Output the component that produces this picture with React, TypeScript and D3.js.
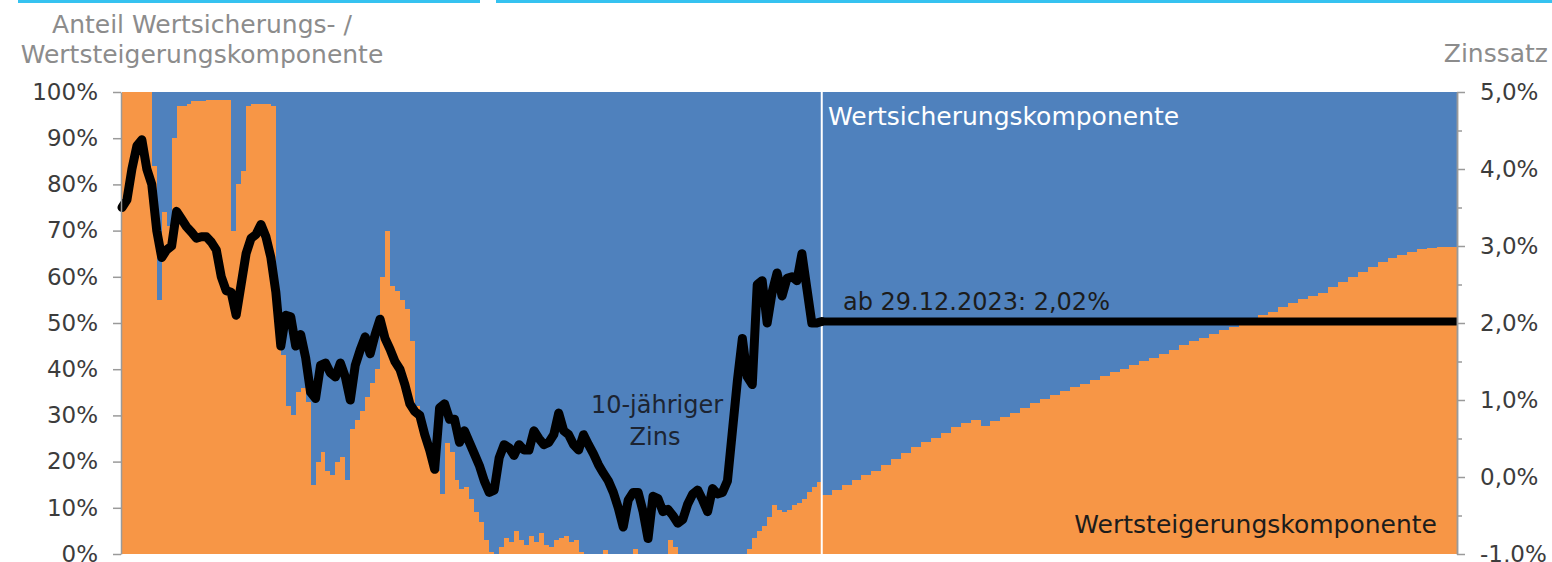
import React, { useEffect, useRef } from "react";
import * as d3 from "d3";

// Anteil Wertsteigerungskomponente (orange) in %, historischer Zeitraum
const shareHist = [
  100, 100, 100, 100, 100, 100, 84, 55, 74, 71,
  90, 97, 97, 97.5, 98, 98, 98, 98.2, 98.2, 98.2,
  98.2, 98.2, 70, 80, 83, 97, 97.4, 97.4, 97.4, 97.4,
  97, 55, 43, 32, 30, 35, 36, 33, 15, 20,
  22, 18, 17, 20, 21, 16, 27, 29, 31, 34,
  37, 40, 60, 70, 58, 57, 55, 53, 46, 32,
  27, 24, 21, 18, 13, 24, 22, 16, 14, 14.5,
  12, 9, 7, 3, 0.5, 0, 1.5, 3.5, 2.5, 5,
  3, 2, 4, 2.5, 4.5, 2, 1.5, 3, 3.5, 4,
  2.5, 3, 0.5, 0, 0, 0, 0, 0.8, 0, 0,
  0, 0, 0, 1, 0, 0, 0, 0, 0, 0,
  3, 1.5, 0, 0, 0, 0, 0, 0, 0, 0,
  0, 0, 0, 0, 0, 0, 1, 3.5, 5, 6,
  8, 10.5, 9.5, 9, 9.5, 10.5, 11, 12, 13.5, 14.5,
  15.5, 15.6,
];

// 10-jähriger Zins in %, historischer Zeitraum
const rateHist = [
  3.5, 3.6, 4.0, 4.3, 4.38, 4.0, 3.8, 3.2, 2.85, 2.95,
  3.0, 3.45, 3.35, 3.25, 3.18, 3.1, 3.12, 3.12, 3.05, 2.95,
  2.6, 2.42, 2.4, 2.1, 2.5, 2.9, 3.1, 3.15, 3.28, 3.12,
  2.85, 2.4, 1.7, 2.1, 2.08, 1.7, 1.85, 1.55, 1.1, 1.02,
  1.45, 1.48, 1.35, 1.3, 1.48, 1.3, 1.0, 1.45, 1.65, 1.82,
  1.6, 1.85, 2.05, 1.8, 1.66, 1.5, 1.4, 1.2, 0.95, 0.85,
  0.8, 0.55, 0.35, 0.1, 0.9, 0.95, 0.75, 0.75, 0.45, 0.6,
  0.45, 0.3, 0.15, -0.05, -0.2, -0.17, 0.25, 0.42, 0.38, 0.28,
  0.42, 0.35, 0.35, 0.6, 0.5, 0.42, 0.45, 0.55, 0.83, 0.6,
  0.55, 0.42, 0.35, 0.55, 0.42, 0.3, 0.16, 0.05, -0.05, -0.2,
  -0.4, -0.65, -0.3, -0.2, -0.2, -0.45, -0.8, -0.25, -0.28, -0.45,
  -0.42, -0.5, -0.6, -0.55, -0.35, -0.22, -0.17, -0.3, -0.45, -0.15,
  -0.22, -0.2, -0.05, 0.6, 1.25, 1.8, 1.3, 1.2, 2.5, 2.55,
  2.0, 2.4, 2.65, 2.35, 2.58, 2.6, 2.55, 2.9, 2.45, 2.0,
  2.0, 2.02,
];

// Projektion ab 29.12.2023 (je 2 Perioden ein Wert)
const shareProj = [
  12.8, 13.8, 15, 16, 17, 18, 19.3, 20.6, 21.9, 23.2,
  24.2, 25.2, 26.2, 27.4, 28.3, 29, 27.6, 28.7, 29.7, 30.6,
  31.6, 32.6, 33.5, 34.4, 35.3, 36.1, 36.9, 37.7, 38.5, 39.3,
  40.1, 40.9, 41.7, 42.5, 43.3, 44.2, 45.2, 46, 46.8, 47.6,
  48.4, 49.2, 50, 51, 51.7, 52.4, 53.4, 54.4, 55.1, 55.8,
  56.6, 57.7, 58.8, 60, 61.1, 62.1, 63.1, 64, 64.8, 65.4,
  66, 66.3, 66.4, 66.5,
];
const rateProj = 2.02;

const shareTicks = [0, 10, 20, 30, 40, 50, 60, 70, 80, 90, 100];
const rateTicks = [-1, 0, 1, 2, 3, 4, 5];
const rateMinorTicks = [-0.5, 0.5, 1.5, 2.5, 3.5, 4.5];

const FONT = "'DejaVu Sans', Verdana, sans-serif";
const ORANGE = "#F79646";
const BLUE = "#4F81BD";

const App = () => {
  const svgRef = useRef<SVGSVGElement>(null);

  useEffect(() => {
    const svg = d3.select(svgRef.current);
    svg.selectAll("*").remove();

    const w = 1552;
    const h = 562;
    const left = 122;
    const right = 1457;
    const top = 92;
    const bottom = 554;

    svg.attr("width", w).attr("height", h).style("background", "#fff");

    // scales
    const n = shareHist.length - 1;
    const xEnd = n + shareProj.length * 2;
    const x = d3.scaleLinear().domain([0, xEnd]).range([left, right]);
    const yS = d3.scaleLinear().domain([0, 100]).range([bottom, top]);
    const yR = d3.scaleLinear().domain([-1, 5]).range([bottom, top]);

    const shareData = [
      ...shareHist.map((v, i) => ({ t: i, v })),
      ...shareProj.map((v, k) => ({ t: n + 2 * k, v })),
      { t: xEnd, v: shareProj[shareProj.length - 1] },
    ];
    const rateHistData = rateHist.map((v, i) => ({ t: i, v }));
    const rateProjData = [
      { t: n, v: rateProj },
      { t: xEnd, v: rateProj },
    ];

    // top rule
    svg.append("rect").attr("x", 18).attr("y", 0).attr("width", 462).attr("height", 3).attr("fill", "#35C2F0");
    svg.append("rect").attr("x", 496).attr("y", 0).attr("width", w - 496).attr("height", 3).attr("fill", "#35C2F0");

    // areas
    const blueArea = d3
      .area<{ t: number; v: number }>()
      .x((d) => x(d.t))
      .y0((d) => yS(d.v))
      .y1(yS(100))
      .curve(d3.curveStepAfter);
    const orangeArea = d3
      .area<{ t: number; v: number }>()
      .x((d) => x(d.t))
      .y0(yS(0))
      .y1((d) => yS(d.v))
      .curve(d3.curveStepAfter);

    svg.append("path").attr("d", blueArea(shareData)).attr("fill", BLUE).attr("shape-rendering", "crispEdges");
    svg.append("path").attr("d", orangeArea(shareData)).attr("fill", ORANGE).attr("shape-rendering", "crispEdges");

    // divider 29.12.2023
    svg
      .append("line")
      .attr("x1", x(n))
      .attr("x2", x(n))
      .attr("y1", yS(0))
      .attr("y2", yS(100))
      .attr("stroke", "#fff")
      .attr("stroke-width", 2);

    // rate line
    const line = d3
      .line<{ t: number; v: number }>()
      .x((d) => x(d.t))
      .y((d) => yR(d.v));
    svg
      .append("path")
      .attr("d", line(rateHistData))
      .attr("fill", "none")
      .attr("stroke", "#000")
      .attr("stroke-width", 9)
      .attr("stroke-linejoin", "round")
      .attr("stroke-linecap", "round");
    svg
      .append("path")
      .attr("d", line(rateProjData))
      .attr("fill", "none")
      .attr("stroke", "#000")
      .attr("stroke-width", 8);

    // axes
    const styleAxis = (g: any) => {
      g.selectAll(".domain").attr("stroke", "#9a9a9a").attr("stroke-width", 1.5);
      g.selectAll(".tick line").attr("stroke", "#9a9a9a").attr("stroke-width", 1.5);
      g.selectAll(".tick text")
        .attr("fill", "#3c3c3c")
        .style("font-family", FONT)
        .style("font-size", "23px");
    };

    svg
      .append("g")
      .attr("transform", `translate(${left - 1},0)`)
      .call(
        d3
          .axisLeft(yS)
          .tickValues(shareTicks)
          .tickSize(8)
          .tickSizeOuter(0)
          .tickPadding(15)
          .tickFormat((d) => `${d}%`)
      )
      .call(styleAxis);

    svg
      .append("g")
      .attr("transform", `translate(${right},0)`)
      .call(
        d3
          .axisRight(yR)
          .tickValues(rateMinorTicks)
          .tickSize(5)
          .tickSizeOuter(0)
          .tickFormat(() => "")
      )
      .call(styleAxis);

    svg
      .append("g")
      .attr("transform", `translate(${right},0)`)
      .call(
        d3
          .axisRight(yR)
          .tickValues(rateTicks)
          .tickSize(8)
          .tickSizeOuter(0)
          .tickPadding(15)
          .tickFormat((d) => `${(+d).toFixed(1).replace(".", ",")}%`)
      )
      .call(styleAxis);

    // axis titles
    const text = (
      tx: number,
      ty: number,
      s: string,
      fill: string,
      anchor = "start",
      size = 25
    ) =>
      svg
        .append("text")
        .attr("x", tx)
        .attr("y", ty)
        .attr("text-anchor", anchor)
        .attr("fill", fill)
        .style("font-family", FONT)
        .style("font-size", `${size}px`)
        .text(s);

    text(202, 33, "Anteil Wertsicherungs- /", "#8c8c8c", "middle");
    text(202, 63, "Wertsteigerungskomponente", "#8c8c8c", "middle");
    text(1548, 62, "Zinssatz", "#8c8c8c", "end");

    // annotations
    text(828, 125, "Wertsicherungskomponente", "#ffffff");
    text(843, 310, "ab 29.12.2023: 2,02%", "#1c1c1c", "start", 24);
    text(657, 413, "10-jähriger", "#1c2432", "middle", 24);
    text(655, 445, "Zins", "#1c2432", "middle", 24);
    text(1437, 533, "Wertsteigerungskomponente", "#1c1c1c", "end");
  }, []);

  return (
    <svg
      ref={svgRef}
      style={{ position: "absolute", left: 0, top: 0, display: "block" }}
    ></svg>
  );
};

export default App;
